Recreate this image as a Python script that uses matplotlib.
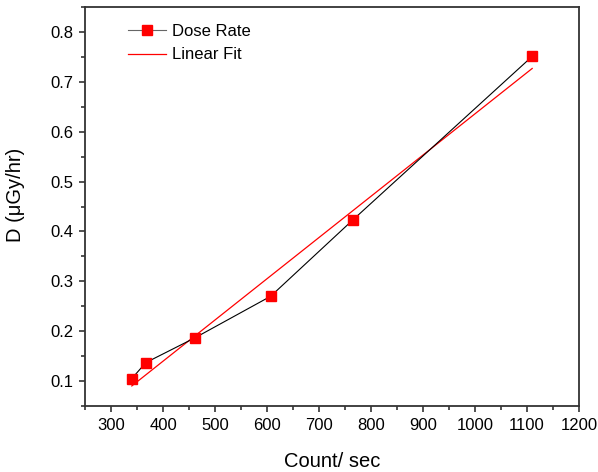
import numpy as np
import matplotlib
matplotlib.use("Agg")
import matplotlib.pyplot as plt
from matplotlib.ticker import MultipleLocator

plt.rcParams["font.family"] = ["Liberation Sans", "DejaVu Sans"]

count_rate = [340, 367, 462, 607, 765, 1110]
dose_rate = [0.105, 0.137, 0.187, 0.270, 0.423, 0.751]

slope, intercept = np.polyfit(count_rate, dose_rate, 1)
fit_x = np.array([min(count_rate), max(count_rate)])
fit_y = slope * fit_x + intercept

fig = plt.figure(figsize=(5.98, 4.72), dpi=100)
ax = fig.add_axes([85 / 598, 1 - 406 / 472, 494 / 598, 399 / 472])

ax.plot(count_rate, dose_rate, color="black", linewidth=0.8, marker="s",
        markersize=6.5, markerfacecolor="red", markeredgecolor="red",
        label="Dose Rate", zorder=3)
ax.plot(fit_x, fit_y, color="red", linewidth=0.9, label="Linear Fit", zorder=2)

ax.set_xlim(250, 1200)
ax.set_ylim(0.05, 0.85)
ax.xaxis.set_major_locator(MultipleLocator(100))
ax.xaxis.set_minor_locator(MultipleLocator(50))
ax.yaxis.set_major_locator(MultipleLocator(0.1))
ax.yaxis.set_minor_locator(MultipleLocator(0.05))
ax.set_xticks(np.arange(300, 1201, 100))

for s in ax.spines.values():
    s.set_linewidth(1.3)
    s.set_color("#333333")
ax.tick_params(which="both", direction="out", width=1.2, colors="#333333",
               labelcolor="black", labelsize=12, top=False, right=False, pad=4)
ax.tick_params(which="major", length=4.5)
ax.tick_params(which="minor", length=3)

ax.set_xlabel("Count/ sec", fontsize=14.5, labelpad=14)
ax.set_ylabel("D (\u03bcGy/hr)", fontsize=14.5)
ax.yaxis.set_label_coords(-0.121, 0.529)

leg = ax.legend(loc="upper left", frameon=False, fontsize=12,
                bbox_to_anchor=(0.087, 0.957), handlelength=2.3,
                handletextpad=0.35, borderaxespad=0, borderpad=0,
                labelspacing=0.5)
leg.get_lines()[0].set_color("#666666")
leg.get_lines()[0].set_markerfacecolor("red")
leg.get_lines()[0].set_markeredgecolor("red")

fig.savefig("out.png", dpi=100)
